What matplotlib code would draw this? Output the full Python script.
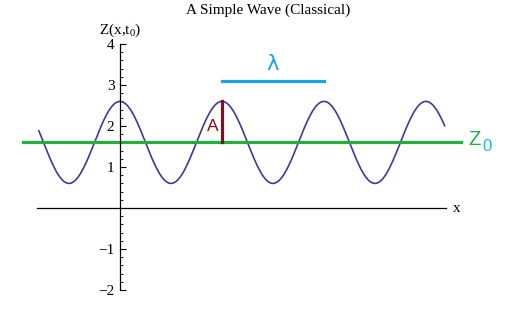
import numpy as np
import matplotlib
matplotlib.use("Agg")
import matplotlib.pyplot as plt

# wave parameters
Z0 = 1.6
A = 1.0
wavelength = 2 * np.pi
x_start, x_end = -5, 20
line_start, line_end = -6, 21
y_ticks = [-2, -1, 1, 2, 3, 4]

x = np.linspace(x_start, x_end, 800)
z = Z0 + A * np.cos(2 * np.pi * x / wavelength)

plt.rcParams['font.family'] = ['Liberation Serif', 'DejaVu Serif']
plt.rcParams['mathtext.fontset'] = 'custom'
plt.rcParams['mathtext.rm'] = 'Liberation Serif'
plt.rcParams['mathtext.it'] = 'Liberation Serif'

fig = plt.figure(figsize=(5.18, 3.27), dpi=100)
ax = fig.add_axes([0, 0, 1, 1])
ax.set_xlim(-120 / 16.23, 398 / 16.23)
ax.set_ylim(-119 / 41, 208 / 41)
ax.patch.set_visible(False)

ax.plot(x, z, color='#3c3b9a', lw=1.2)
ax.plot([line_start, line_end], [Z0, Z0], color='#22b03c', lw=2.3)
ax.plot([wavelength, 2 * wavelength], [Z0 + A + 0.5, Z0 + A + 0.5], color='#1aa4e6', lw=2.3)
ax.plot([wavelength, wavelength], [Z0, Z0 + A], color='#8a0c1e', lw=2.3)

ax.text(1.5 * wavelength - 0.05, Z0 + A + 0.91, '\u03bb', color='#1aa4e6', fontsize=15,
        ha='center', va='center', family='DejaVu Sans')
ax.text(wavelength - 0.55, Z0 + 0.40, 'A', color='#8a0c1e', fontsize=12.5,
        ha='center', va='center', family='Liberation Sans')
ax.text(21.45, Z0 + 0.08, 'Z', color='#22b03c', fontsize=14.5,
        ha='left', va='center', family='Liberation Sans')
ax.text(22.3, Z0 - 0.1, '0', color='#2ab6c4', fontsize=12,
        ha='left', va='center', family='Liberation Sans')

for s in ['top', 'right']:
    ax.spines[s].set_visible(False)
ax.spines['left'].set_position(('data', 0))
ax.spines['bottom'].set_position(('data', 0))
ax.spines['left'].set_bounds(-2, 4)
ax.spines['bottom'].set_bounds(-5.1, 20.1)
ax.spines['left'].set_linewidth(0.9)
ax.spines['bottom'].set_linewidth(0.9)

ax.set_xticks([])
ax.set_yticks(y_ticks)
ax.set_yticklabels([f'\u2212{-t}' if t < 0 else str(t) for t in y_ticks])
ax.set_yticks(np.arange(-2, 4.01, 0.2), minor=True)
ax.tick_params(axis='y', which='major', direction='in', length=4, width=0.8, pad=4, labelsize=11)
ax.tick_params(axis='y', which='minor', direction='in', length=2.2, width=0.6)

ax.text(0, 4.34, r'Z(x,t$_0$)', fontsize=11, ha='center', va='center')
fig.text(457 / 518, 1 - 209 / 327, 'x', fontsize=11, ha='center', va='center')
fig.text(268 / 518, 1 - 10 / 327, 'A Simple Wave (Classical)', fontsize=11,
         ha='center', va='center')

fig.savefig('out.png', dpi=100)
